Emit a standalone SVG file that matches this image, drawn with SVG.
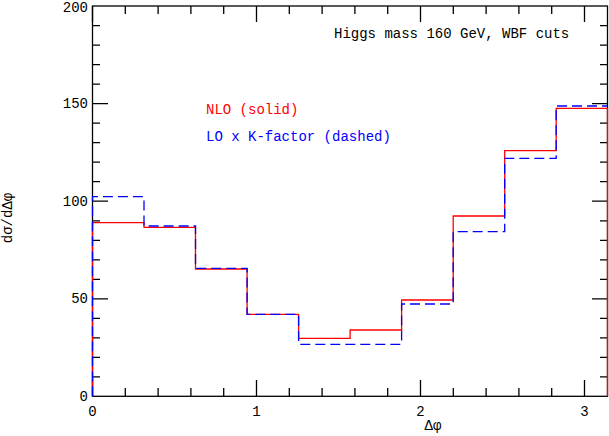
<svg xmlns="http://www.w3.org/2000/svg" width="609" height="436" viewBox="0 0 609 436">
<style>
text{font-family:"Liberation Mono","DejaVu Sans Mono",monospace;font-size:14px;fill:#000}
.ax{fill:none;stroke:#000;stroke-width:1.3}
.nlo{fill:none;stroke:#ff0000;stroke-width:1.3}
.lo{fill:none;stroke:#0000ff;stroke-width:1.3;stroke-dasharray:10,5}
</style>
<rect width="609" height="436" fill="#fff"/>
<g id="axes">
<rect class="ax" x="92.5" y="6" width="515" height="390.3"/>
<path class="ax" d="M92.5,396V380 M256.5,396V380 M420.5,396V380 M584.5,396V380 M92.5,6V22 M256.5,6V22 M420.5,6V22 M584.5,6V22
M125.3,396V388 M158.1,396V388 M190.9,396V388 M223.7,396V388 M289.3,396V388 M322.1,396V388 M354.9,396V388 M387.7,396V388 M453.3,396V388 M486.1,396V388 M518.9,396V388 M551.7,396V388
M125.3,6V14 M158.1,6V14 M190.9,6V14 M223.7,6V14 M289.3,6V14 M322.1,6V14 M354.9,6V14 M387.7,6V14 M453.3,6V14 M486.1,6V14 M518.9,6V14 M551.7,6V14
M92.5,298.8H108 M92.5,201.2H108 M92.5,103.7H108 M607.5,298.8H592 M607.5,201.2H592 M607.5,103.7H592
M92.5,376.8H100 M92.5,357.3H100 M92.5,337.8H100 M92.5,318.3H100 M92.5,279.3H100 M92.5,259.8H100 M92.5,240.3H100 M92.5,220.8H100 M92.5,181.7H100 M92.5,162.2H100 M92.5,142.7H100 M92.5,123.2H100 M92.5,84.2H100 M92.5,64.7H100 M92.5,45.2H100 M92.5,25.7H100
M607.5,376.8H600 M607.5,357.3H600 M607.5,337.8H600 M607.5,318.3H600 M607.5,279.3H600 M607.5,259.8H600 M607.5,240.3H600 M607.5,220.8H600 M607.5,181.7H600 M607.5,162.2H600 M607.5,142.7H600 M607.5,123.2H600 M607.5,84.2H600 M607.5,64.7H600 M607.5,45.2H600 M607.5,25.7H600"/>
<g text-anchor="end">
<text x="88" y="401">0</text>
<text x="88" y="303">50</text>
<text x="88" y="206">100</text>
<text x="88" y="108">150</text>
<text x="88" y="12">200</text>
</g>
<g text-anchor="middle">
<text x="92.5" y="416">0</text>
<text x="256.5" y="416">1</text>
<text x="420.5" y="416">2</text>
<text x="584.5" y="416">3</text>
<text x="433" y="430">Δφ</text>
<text transform="translate(12,218) rotate(-90)">dσ/dΔφ</text>
</g>
</g>
<g id="curves">
<path class="nlo" d="M92.5,396.3V222.7H144V227.3H195.5V269H247.1V314.3H298.6V338.3H350.1V330H401.6V300H453.2V216H504.7V150.7H556.2V108.3H607.5V396.3"/>
<path class="lo" d="M92.5,396.3V196.7H144V226H195.5V268.3H247.1V314.3H298.6V344.3H350.1V344.3H401.6V304H453.2V231.7H504.7V158.3H556.2V106H607.5"/>
</g>
<g id="labels">
<text x="334" y="38">Higgs mass 160 GeV, WBF cuts</text>
<text x="206" y="114" style="fill:#ff0000">NLO (solid)</text>
<text x="206" y="141" style="fill:#0000ff">LO x K-factor (dashed)</text>
</g>
</svg>
